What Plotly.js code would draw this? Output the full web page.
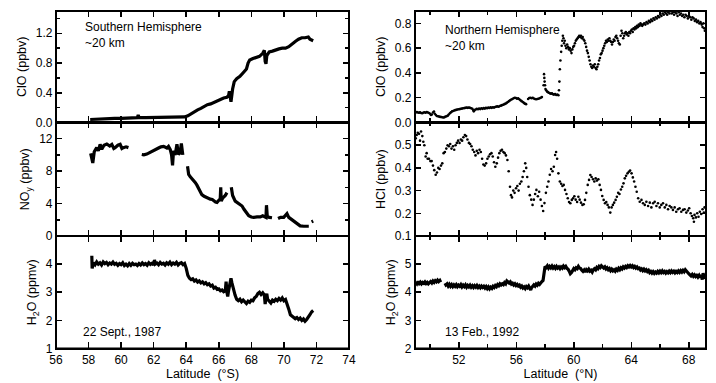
<!DOCTYPE html>
<html>
<head>
<meta charset="utf-8">
<script src="https://cdn.plot.ly/plotly-3.0.1.min.js"></script>
<style>html,body{margin:0;padding:0;background:#fff;}#plot{width:716px;height:383px;}</style>
</head>
<body>
<div id="plot"></div>
<script>
// ---- Southern hemisphere (22 Sept. 1987) ----
const cloS_lat = [58.1,58.4,58.8,59.2,59.6,60.0,60.4,60.8,61.0,61.05,61.1,61.5,62.0,62.5,63.0,63.5,63.9,64.1,64.3,64.5,64.7,64.9,65.1,65.3,65.5,65.7,65.9,66.1,66.3,66.5,66.6,66.65,66.7,66.75,66.85,66.95,67.1,67.3,67.5,67.7,67.8,67.9,68.1,68.3,68.5,68.7,68.8,68.85,68.9,68.95,69.1,69.3,69.5,69.7,69.9,70.1,70.3,70.5,70.7,70.9,71.1,71.3,71.5,71.6,71.7,71.8];
const cloS = [0.04,0.045,0.05,0.05,0.055,0.055,0.06,0.06,0.065,0.10,0.065,0.065,0.065,0.07,0.07,0.07,0.075,0.09,0.12,0.15,0.17,0.19,0.22,0.24,0.25,0.27,0.30,0.32,0.33,0.34,0.36,0.42,0.35,0.28,0.45,0.55,0.59,0.62,0.67,0.72,0.80,0.84,0.86,0.87,0.89,0.93,0.97,0.82,0.79,0.90,0.95,0.96,0.98,0.99,1.0,1.0,1.02,1.06,1.09,1.12,1.14,1.14,1.15,1.12,1.11,1.10];

const noy_lat = [58.13,58.2,58.26,58.35,58.5,58.6,58.71,58.81,58.95,59.12,59.3,59.43,59.55,59.63,59.8,59.94,60.05,60.14,60.3,60.45,null,
 61.27,61.4,61.58,61.75,61.89,62.1,62.3,62.45,62.61,62.81,62.91,63.02,63.1,63.16,63.22,63.32,63.43,63.53,63.63,63.7,63.79,null,
 64.08,64.15,64.25,64.4,64.55,64.65,64.76,64.86,64.96,65.1,65.27,65.48,65.6,65.68,65.8,65.89,66.0,66.09,66.12,66.15,66.25,66.4,66.5,null,
 66.77,66.85,67.01,67.22,67.43,67.55,67.7,67.84,68.0,68.14,68.35,68.55,68.7,68.8,68.9,68.93,68.98,69.1,69.27,null,
 69.64,69.8,69.99,70.1,70.19,70.3,70.5,70.7,70.81,71.0,71.22,71.4,71.53,null,71.7,71.8];
const noy = [10.2,9.5,9.0,10.4,10.9,10.5,11.3,10.7,11.2,11.35,11.1,11.3,10.8,10.9,11.2,11.3,10.8,10.9,11.0,10.9,null,
 10.05,10.0,10.1,10.3,10.45,10.7,10.85,11.0,11.05,10.85,11.05,10.65,10.0,8.7,10.5,10.0,11.3,10.05,10.3,11.4,10.0,null,
 8.6,7.6,7.3,7.0,6.6,6.3,5.9,5.6,5.1,4.9,4.7,4.55,4.5,4.35,4.2,4.15,4.4,4.6,6.0,4.3,4.7,5.0,5.35,null,
 6.0,5.0,4.3,3.95,3.7,3.3,2.9,2.5,2.35,2.3,2.35,2.35,2.5,2.4,2.3,3.8,2.4,2.3,2.25,null,
 2.15,2.3,2.3,2.55,2.75,2.3,2.0,1.6,1.45,1.25,1.2,1.2,1.2,null,1.75,1.85];

const h2oS_lat = [58.2,58.22,58.3,58.4,58.5,58.6,58.7,58.8,58.9,59.0,59.1,59.2,59.3,59.4,59.5,59.6,59.7,59.8,59.9,60.0,60.1,60.2,60.3,60.4,60.5,60.6,60.7,60.8,60.9,61.0,61.1,61.2,61.3,61.4,61.5,61.6,61.7,61.8,61.9,62.0,62.05,62.1,62.2,62.3,62.4,62.5,62.6,62.7,62.8,62.9,63.0,63.1,63.2,63.3,63.4,63.5,63.6,63.7,63.8,63.9,64.0,64.1,64.2,64.3,64.4,64.5,64.6,64.7,64.8,64.9,65.0,65.1,65.2,65.3,65.4,65.5,65.6,65.7,65.8,65.9,66.0,66.1,66.2,66.3,66.4,66.45,66.5,66.55,66.6,66.7,66.75,66.8,66.9,67.0,67.1,67.2,67.3,67.4,67.5,67.6,67.7,67.8,67.9,68.0,68.1,68.2,68.3,68.4,68.5,68.6,68.7,68.8,68.85,68.9,68.95,69.0,69.1,69.2,69.3,69.4,69.5,69.6,69.7,69.8,69.9,70.0,70.1,70.2,70.3,70.4,70.5,70.6,70.7,70.8,70.9,71.0,71.1,71.2,71.3,71.4,71.5,71.6,71.7,71.8];
const h2oS = [4.3,3.85,4.05,3.98,4.08,4.0,4.05,3.97,4.08,4.02,4.06,3.98,4.04,4.0,4.07,3.99,4.03,3.96,4.02,3.98,4.05,3.95,4.0,3.94,4.02,3.96,4.03,3.98,4.0,3.95,4.02,3.97,4.04,3.98,4.02,3.96,4.05,3.99,4.03,3.97,4.15,4.0,4.04,3.98,4.06,4.0,4.03,3.97,4.05,4.0,4.07,3.98,4.04,4.0,4.06,3.97,4.03,4.05,3.98,4.02,3.85,3.6,3.5,3.45,3.48,3.4,3.44,3.36,3.4,3.33,3.37,3.3,3.34,3.27,3.3,3.22,3.25,3.15,3.18,3.1,3.12,3.05,3.08,3.02,3.05,3.38,3.0,2.85,3.05,3.3,3.5,3.35,3.1,2.9,2.75,2.7,2.75,2.66,2.72,2.65,2.6,2.68,2.64,2.72,2.7,2.8,2.85,2.95,3.0,2.92,2.98,2.9,2.58,2.85,2.95,2.75,2.7,2.62,2.72,2.68,2.75,2.7,2.78,2.72,2.8,2.7,2.74,2.6,2.4,2.2,2.15,2.1,2.06,2.1,2.03,2.08,2.0,2.05,1.97,2.03,2.1,2.2,2.3,2.35];

// ---- Northern hemisphere (13 Feb. 1992) ----
const cloN_lat = [49.0,49.08,49.15,49.23,49.3,49.38,49.46,49.54,49.62,49.69,49.77,49.85,49.92,50.0,50.06,50.12,50.2,50.27,50.33,50.4,50.47,50.55,50.62,50.7,50.78,50.85,50.93,51.0,51.08,51.15,51.23,51.3,51.38,51.45,51.53,51.6,51.68,51.75,51.83,51.9,51.98,52.06,52.14,52.22,52.3,52.38,52.46,52.54,52.62,52.7,52.78,52.86,52.94,53.0,53.04,53.1,53.17,53.25,53.33,53.41,53.49,53.57,53.65,53.73,53.81,53.89,53.97,54.05,54.13,54.21,54.29,54.37,54.45,54.53,54.61,54.69,54.77,54.85,54.93,55.01,55.09,55.17,55.25,55.33,55.41,55.49,55.57,55.65,55.73,55.81,55.89,55.97,56.05,56.13,56.21,56.29,56.37,56.45,56.53,56.6,56.68,56.82,56.9,56.98,57.06,57.14,57.22,57.3,57.38,57.46,57.54,57.62,57.7,57.78,57.9,57.93,57.95,57.97,58.0,58.03,58.08,58.14,58.2,58.27,58.34,58.41,58.48,58.55,58.62,58.7,58.78,58.86,58.93,58.97,59.0,59.03,59.07,59.12,59.16,59.2,59.24,59.28,59.32,59.37,59.42,59.48,59.54,59.6,59.66,59.72,59.78,59.84,59.9,59.96,60.02,60.08,60.14,60.2,60.26,60.32,60.38,60.44,60.5,60.56,60.62,60.68,60.74,60.8,60.86,60.92,60.98,61.04,61.1,61.16,61.22,61.28,61.34,61.4,61.46,61.52,61.58,61.64,61.7,61.76,61.82,61.88,61.94,62.0,62.06,62.12,62.18,62.24,62.3,62.36,62.42,62.48,62.54,62.6,62.66,62.72,62.78,62.84,62.9,62.96,63.02,63.08,63.14,63.2,63.26,63.32,63.38,63.44,63.5,63.56,63.62,63.68,63.74,63.8,63.86,63.92,63.98,64.04,64.1,64.16,64.22,64.28,64.34,64.4,64.46,64.52,64.58,64.64,64.7,64.76,64.82,64.9,64.98,65.06,65.14,65.22,65.3,65.38,65.46,65.54,65.62,65.7,65.78,65.86,65.94,66.02,66.1,66.18,66.26,66.34,66.42,66.5,66.58,66.66,66.74,66.82,66.9,66.98,67.06,67.14,67.22,67.3,67.38,67.46,67.54,67.62,67.7,67.78,67.86,67.94,68.02,68.1,68.18,68.26,68.34,68.42,68.5,68.58,68.66,68.74,68.82,68.9,68.96,69.02,69.08,69.12];
const cloN = [0.08,0.085,0.08,0.078,0.082,0.076,0.075,0.08,0.083,0.079,0.085,0.08,0.077,0.07,0.06,0.065,0.08,0.088,0.07,0.06,0.052,0.05,0.048,0.045,0.044,0.042,0.04,0.043,0.048,0.05,0.055,0.065,0.075,0.083,0.09,0.093,0.097,0.1,0.102,0.105,0.107,0.108,0.11,0.112,0.115,0.116,0.118,0.12,0.118,0.12,0.118,0.115,0.11,0.1,0.09,0.1,0.105,0.11,0.107,0.112,0.108,0.115,0.11,0.116,0.112,0.118,0.115,0.12,0.117,0.122,0.118,0.123,0.12,0.125,0.128,0.13,0.127,0.133,0.136,0.14,0.143,0.148,0.152,0.158,0.165,0.172,0.18,0.186,0.19,0.195,0.2,0.198,0.192,0.195,0.188,0.18,0.172,0.165,0.158,0.152,0.148,0.19,0.198,0.2,0.195,0.2,0.193,0.19,0.187,0.19,0.192,0.195,0.2,0.205,0.3,0.39,0.36,0.33,0.3,0.27,0.26,0.25,0.245,0.24,0.235,0.232,0.235,0.228,0.225,0.23,0.222,0.225,0.22,0.26,0.33,0.43,0.5,0.57,0.62,0.66,0.7,0.68,0.64,0.66,0.62,0.6,0.63,0.61,0.59,0.6,0.58,0.56,0.59,0.61,0.62,0.64,0.66,0.67,0.68,0.69,0.7,0.69,0.7,0.68,0.69,0.67,0.66,0.64,0.61,0.58,0.56,0.53,0.5,0.47,0.45,0.44,0.46,0.45,0.47,0.44,0.43,0.45,0.47,0.5,0.52,0.55,0.56,0.58,0.6,0.62,0.64,0.66,0.65,0.67,0.66,0.68,0.66,0.65,0.63,0.65,0.67,0.66,0.69,0.7,0.68,0.66,0.64,0.63,0.7,0.74,0.72,0.68,0.7,0.72,0.73,0.71,0.72,0.7,0.73,0.72,0.74,0.75,0.73,0.76,0.75,0.77,0.76,0.78,0.77,0.79,0.78,0.8,0.79,0.78,0.79,0.8,0.79,0.81,0.8,0.82,0.81,0.83,0.82,0.84,0.83,0.85,0.84,0.86,0.85,0.87,0.86,0.88,0.87,0.89,0.88,0.87,0.89,0.88,0.9,0.88,0.89,0.87,0.89,0.88,0.86,0.89,0.87,0.88,0.86,0.87,0.85,0.87,0.86,0.84,0.86,0.85,0.83,0.85,0.84,0.82,0.83,0.81,0.82,0.8,0.81,0.79,0.77,0.8,0.76,0.74];

const hcl_lat = [49.0,49.07,49.14,49.23,49.3,49.37,49.46,49.53,49.6,49.69,49.76,49.83,49.92,50.02,50.11,50.2,50.29,50.39,50.48,50.57,50.66,50.76,50.85,50.94,51.03,51.13,51.22,51.31,51.4,51.49,51.59,51.68,51.77,51.86,51.95,52.05,52.14,52.23,52.32,52.42,52.51,52.6,52.7,52.79,52.88,52.97,53.07,53.16,53.25,53.34,53.44,53.53,53.62,53.71,53.8,53.9,53.99,54.08,54.17,54.27,54.36,54.45,54.54,54.64,54.73,54.82,54.91,55.0,55.1,55.19,55.28,55.38,55.47,55.56,55.63,55.7,55.79,55.88,55.98,56.07,56.16,56.25,56.35,56.44,56.53,56.62,56.69,56.76,56.85,56.94,57.04,57.13,57.22,57.31,57.4,57.5,57.59,57.69,57.78,57.87,57.96,58.06,58.15,58.24,58.33,58.42,58.52,58.61,58.7,58.77,58.84,58.93,59.03,59.12,59.21,59.3,59.39,59.49,59.58,59.67,59.76,59.86,59.95,60.04,60.13,60.23,60.32,60.41,60.5,60.6,60.69,60.78,60.87,60.97,61.06,61.15,61.24,61.34,61.43,61.52,61.61,61.71,61.8,61.89,61.98,62.08,62.17,62.26,62.35,62.44,62.54,62.63,62.72,62.81,62.91,63.0,63.09,63.18,63.28,63.37,63.46,63.55,63.64,63.74,63.83,63.92,64.02,64.11,64.2,64.29,64.38,64.48,64.59,64.71,64.82,64.94,65.05,65.17,65.29,65.4,65.52,65.63,65.75,65.86,65.98,66.09,66.21,66.33,66.44,66.56,66.67,66.79,66.9,67.02,67.13,67.25,67.36,67.48,67.6,67.71,67.83,67.94,68.03,68.13,68.22,68.31,68.36,68.4,68.5,68.59,68.68,68.77,68.87,68.96,69.05,69.1];
const hcl = [0.53,0.545,0.555,0.55,0.52,0.56,0.54,0.515,0.5,0.45,0.465,0.44,0.44,0.43,0.43,0.41,0.39,0.37,0.38,0.4,0.395,0.41,0.42,0.465,0.47,0.485,0.5,0.495,0.505,0.485,0.495,0.48,0.5,0.51,0.52,0.51,0.525,0.52,0.535,0.545,0.54,0.525,0.51,0.505,0.495,0.48,0.47,0.455,0.475,0.465,0.48,0.47,0.44,0.415,0.41,0.42,0.44,0.45,0.46,0.465,0.45,0.425,0.405,0.42,0.445,0.465,0.475,0.48,0.47,0.465,0.455,0.435,0.385,0.317,0.28,0.27,0.3,0.29,0.31,0.32,0.3,0.33,0.34,0.36,0.385,0.42,0.4,0.36,0.317,0.28,0.26,0.237,0.26,0.285,0.303,0.275,0.295,0.26,0.232,0.21,0.245,0.29,0.317,0.34,0.37,0.395,0.385,0.405,0.457,0.47,0.44,0.376,0.34,0.33,0.32,0.325,0.303,0.285,0.266,0.25,0.244,0.259,0.266,0.275,0.26,0.25,0.273,0.26,0.247,0.237,0.24,0.259,0.29,0.325,0.347,0.369,0.36,0.35,0.34,0.354,0.344,0.35,0.325,0.303,0.276,0.259,0.244,0.25,0.237,0.226,0.203,0.226,0.237,0.247,0.259,0.273,0.29,0.285,0.305,0.317,0.332,0.354,0.365,0.376,0.383,0.388,0.376,0.358,0.34,0.317,0.295,0.266,0.251,0.259,0.244,0.237,0.251,0.232,0.247,0.226,0.244,0.251,0.232,0.244,0.226,0.237,0.244,0.226,0.237,0.218,0.232,0.226,0.215,0.226,0.207,0.218,0.222,0.207,0.215,0.218,0.203,0.212,0.222,0.2,0.188,0.178,0.163,0.193,0.182,0.2,0.185,0.207,0.197,0.218,0.203,0.226];

const h2oN_lat = [49.0,49.08,49.16,49.24,49.32,49.4,49.48,49.56,49.64,49.72,49.8,49.88,49.96,50.04,50.12,50.2,50.28,50.36,50.44,50.52,50.6,50.68,50.74,null,51.04,51.1,51.18,51.26,51.34,51.42,51.5,51.58,51.66,51.74,51.82,51.9,51.98,52.06,52.14,52.22,52.3,52.38,52.46,52.54,52.62,52.7,52.78,52.86,52.94,53.02,53.1,53.18,53.26,53.34,53.42,53.5,53.58,53.66,53.74,53.82,53.9,53.98,54.06,54.14,54.22,54.3,54.38,54.46,54.54,54.62,54.7,54.78,54.86,54.94,55.02,55.1,55.18,55.26,55.34,55.42,55.5,55.58,55.66,55.74,55.82,55.9,55.98,56.06,56.14,56.22,56.3,56.38,56.46,56.54,56.62,56.7,56.78,56.86,56.94,57.0,57.06,57.14,57.22,57.3,57.38,57.46,57.54,57.62,57.7,57.78,57.86,57.92,57.96,58.0,58.08,58.16,58.24,58.32,58.4,58.48,58.56,58.64,58.72,58.8,58.88,58.96,59.04,59.12,59.2,59.28,59.36,59.44,59.52,59.6,59.68,59.76,59.84,59.92,60.0,60.08,60.16,60.24,60.32,60.4,60.48,60.56,60.64,60.72,60.8,60.88,60.96,61.04,61.12,61.2,61.28,61.36,61.44,61.52,61.6,61.68,61.76,61.84,61.92,62.0,62.08,62.16,62.24,62.32,62.4,62.48,62.56,62.64,62.72,62.8,62.88,62.96,63.04,63.12,63.2,63.28,63.36,63.44,63.52,63.6,63.68,63.76,63.84,63.92,64.0,64.08,64.16,64.24,64.32,64.4,64.48,64.56,64.64,64.72,64.8,64.88,64.96,65.04,65.12,65.2,65.28,65.36,65.44,65.52,65.6,65.68,65.76,65.84,65.92,66.0,66.08,66.16,66.24,66.32,66.4,66.48,66.56,66.64,66.72,66.8,66.88,66.96,67.04,67.12,67.2,67.28,67.36,67.44,67.52,67.6,67.68,67.76,67.84,67.92,68.0,68.08,68.16,68.24,68.32,68.4,68.48,68.56,68.64,68.72,68.8,68.88,68.94,69.0,69.06,69.12,69.18];
const h2oN = [4.35,4.3,4.38,4.31,4.36,4.3,4.35,4.32,4.37,4.31,4.35,4.3,4.34,4.38,4.33,4.4,4.35,4.41,4.37,4.43,4.38,4.42,4.36,null,4.32,4.26,4.3,4.22,4.28,4.21,4.27,4.2,4.26,4.21,4.27,4.2,4.25,4.21,4.27,4.19,4.25,4.2,4.26,4.18,4.24,4.19,4.25,4.18,4.23,4.17,4.23,4.18,4.24,4.17,4.22,4.16,4.22,4.17,4.21,4.15,4.2,4.13,4.19,4.12,4.18,4.14,4.21,4.17,4.24,4.2,4.27,4.23,4.3,4.26,4.3,4.27,4.34,4.3,4.4,4.36,4.33,4.37,4.29,4.32,4.26,4.3,4.24,4.28,4.22,4.25,4.18,4.22,4.15,4.19,4.13,4.2,4.16,4.22,4.15,4.08,4.16,4.22,4.26,4.22,4.29,4.25,4.32,4.28,4.35,4.38,4.42,4.6,4.8,4.92,4.88,4.94,4.86,4.92,4.87,4.93,4.86,4.91,4.85,4.92,4.86,4.9,4.84,4.9,4.86,4.93,4.88,4.92,4.85,4.82,4.75,4.66,4.7,4.78,4.84,4.8,4.87,4.84,4.92,4.86,4.84,4.78,4.74,4.79,4.72,4.8,4.76,4.82,4.75,4.78,4.72,4.8,4.84,4.8,4.88,4.84,4.92,4.88,4.94,4.9,4.86,4.9,4.83,4.87,4.8,4.84,4.77,4.82,4.76,4.8,4.75,4.82,4.78,4.85,4.8,4.87,4.83,4.9,4.86,4.92,4.88,4.94,4.9,4.95,4.9,4.94,4.88,4.92,4.86,4.9,4.84,4.86,4.79,4.83,4.77,4.82,4.76,4.8,4.74,4.78,4.7,4.74,4.68,4.73,4.67,4.72,4.68,4.74,4.69,4.75,4.7,4.76,4.7,4.74,4.68,4.73,4.69,4.75,4.7,4.76,4.71,4.75,4.69,4.74,4.7,4.76,4.71,4.77,4.72,4.78,4.73,4.8,4.74,4.72,4.66,4.62,4.58,4.63,4.57,4.62,4.56,4.6,4.54,4.6,4.52,4.62,4.45,4.68,4.5,4.6,4.48];

// ---- axis tick labels ----
const xTicksS = [56,58,60,62,64,66,68,70,72,74];
const xTicksN = [52,56,60,64,68];
const yTicksCloS = [0.0,0.4,0.8,1.2];
const yTicksNoy = [0,4,8,12];
const yTicksH2oS = [1,2,3,4];
const yTicksCloN = [0.0,0.2,0.4,0.6,0.8];
const yTicksHcl = [0.1,0.2,0.3,0.4,0.5];
const yTicksH2oN = [2,3,4,5];

const FONT = 'Liberation Sans, Arial, Helvetica, sans-serif';
const lineStyle = {color:'#000', width:3.2};
const traces = [
  {x:cloS_lat, y:cloS, xaxis:'x', yaxis:'y', mode:'lines', line:lineStyle},
  {x:noy_lat, y:noy, xaxis:'x2', yaxis:'y2', mode:'lines', line:lineStyle, connectgaps:false},
  {x:h2oS_lat, y:h2oS, xaxis:'x3', yaxis:'y3', mode:'lines', line:lineStyle},
  {x:cloN_lat, y:cloN, xaxis:'x4', yaxis:'y4', mode:'markers', marker:{color:'#000', size:2.6}},
  {x:hcl_lat, y:hcl, xaxis:'x5', yaxis:'y5', mode:'markers', marker:{color:'#000', size:2.6}},
  {x:h2oN_lat, y:h2oN, xaxis:'x6', yaxis:'y6', mode:'lines', line:lineStyle, connectgaps:false}
];

const xL = [56/716, 349/716], xR = [415/716, 706/716];
const d1 = [0.6802, 0.9713], d2 = [0.3838, 0.6802], d3 = [0.0901, 0.3838];

function xax(domain, anchor, range, opts) {
  return Object.assign({domain, anchor, range, showline:true, mirror:'ticks', linecolor:'#000', linewidth:1.1,
    ticks:'inside', ticklen:6, tickwidth:1.5, tickcolor:'#000', showgrid:false, zeroline:false,
    tickfont:{family:FONT, size:12, color:'#000'}, showticklabels:false}, opts);
}
function yax(domain, anchor, range, tickvals, fmt, title, opts) {
  return Object.assign({domain, anchor, range, tickmode:'array', tickvals, tickformat:fmt, showline:true, mirror:'ticks',
    linecolor:'#000', linewidth:1.1, ticks:'inside', ticklen:6, tickwidth:1.5, tickcolor:'#000', showgrid:false, zeroline:false,
    tickfont:{family:FONT, size:12, color:'#000'}, title:{text:title, font:{family:FONT, size:12.5, color:'#000'}, standoff:6}}, opts);
}
const xTitleFont = {family:FONT, size:12.5, color:'#000'};
const nOpts = {tickmode:'array', tickvals:xTicksN, minor:{tickmode:'linear', tick0:50, dtick:2, ticks:'inside', ticklen:4, tickcolor:'#000', tickwidth:1.2}};

function frame(x0, x1) {
  return {type:'rect', xref:'paper', yref:'paper', x0, x1, y0:d3[0], y1:d1[1], line:{color:'#000', width:2}, fillcolor:'rgba(0,0,0,0)'};
}

const layout = {
  width:716, height:383, margin:{l:0, r:0, t:0, b:0}, paper_bgcolor:'#fff', plot_bgcolor:'#fff', showlegend:false,
  font:{family:FONT, size:12, color:'#000'},
  xaxis: xax(xL, 'y', [56,74], {tickmode:'array', tickvals:xTicksS}),
  xaxis2: xax(xL, 'y2', [56,74], {tickmode:'array', tickvals:xTicksS}),
  xaxis3: xax(xL, 'y3', [56,74], {tickmode:'array', tickvals:xTicksS, showticklabels:true, title:{text:'Latitude\u00a0 (°S)', font:xTitleFont, standoff:2}}),
  xaxis4: xax(xR, 'y4', [48.95,69.2], nOpts),
  xaxis5: xax(xR, 'y5', [48.95,69.2], nOpts),
  xaxis6: xax(xR, 'y6', [48.95,69.2], Object.assign({showticklabels:true, title:{text:'Latitude\u00a0 (°N)', font:xTitleFont, standoff:2}}, nOpts)),
  yaxis: yax(d1, 'x', [0,1.5], yTicksCloS, '.1f', 'ClO (ppbv)', {minor:{tickmode:'linear', tick0:0, dtick:0.2, ticks:'inside', ticklen:4, tickcolor:'#000'}}),
  yaxis2: yax(d2, 'x2', [0,14], yTicksNoy, 'd', 'NO<sub>y</sub> (ppbv)', {minor:{tickmode:'linear', tick0:0, dtick:2, ticks:'inside', ticklen:4, tickcolor:'#000'}}),
  yaxis3: yax(d3, 'x3', [1,5], yTicksH2oS, 'd', 'H<sub>2</sub>O (ppmv)', {}),
  yaxis4: yax(d1, 'x4', [0,0.9], yTicksCloN, '.1f', 'ClO (ppbv)', {}),
  yaxis5: yax(d2, 'x5', [0.1,0.6], yTicksHcl, '.1f', 'HCl (ppbv)', {}),
  yaxis6: yax(d3, 'x6', [2,6], yTicksH2oN, 'd', 'H<sub>2</sub>O (ppmv)', {}),
  shapes: [frame(xL[0], xL[1]), frame(xR[0], xR[1])],
  annotations: [
    {xref:'paper', yref:'paper', x:83/716, y:1-18/383, xanchor:'left', yanchor:'top', align:'left', showarrow:false,
     text:'Southern Hemisphere<br>~20 km', font:{family:FONT, size:12, color:'#000'}},
    {xref:'paper', yref:'paper', x:443/716, y:1-21/383, xanchor:'left', yanchor:'top', align:'left', showarrow:false,
     text:'Northern Hemisphere<br>~20 km', font:{family:FONT, size:12, color:'#000'}},
    {xref:'paper', yref:'paper', x:81/716, y:1-332/383, xanchor:'left', yanchor:'middle', showarrow:false,
     text:'22 Sept., 1987', font:{family:FONT, size:12, color:'#000'}},
    {xref:'paper', yref:'paper', x:443/716, y:1-332/383, xanchor:'left', yanchor:'middle', showarrow:false,
     text:'13 Feb., 1992', font:{family:FONT, size:12, color:'#000'}}
  ]
};

Plotly.newPlot('plot', traces, layout, {staticPlot:true, displayModeBar:false});
</script>
</body>
</html>
